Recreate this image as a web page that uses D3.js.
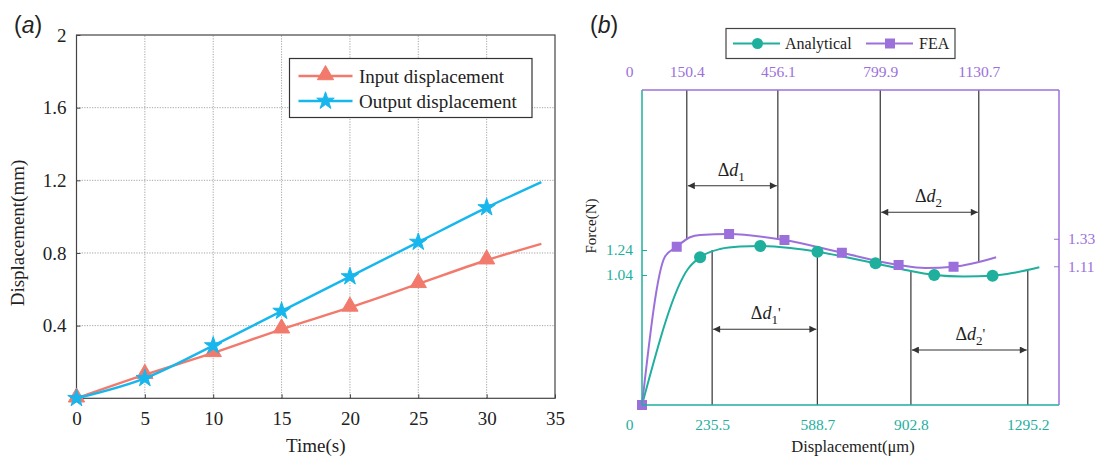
<!DOCTYPE html>
<html><head><meta charset="utf-8">
<script src="https://cdn.jsdelivr.net/npm/d3@7"></script>
<style>
body{margin:0;background:#fff;}
svg{display:block;font-family:"Liberation Serif","Times New Roman",serif;}
</style></head><body>
<svg id="chart" width="1095" height="457"></svg>
<script>
// ---------- Panel (a) data ----------
const timeValues = [0, 5, 10, 15, 20, 25, 30, 34];
const inputDisplacement = [0, 0.13, 0.25, 0.38, 0.50, 0.63, 0.76, 0.85];
const outputDisplacement = [0, 0.11, 0.29, 0.48, 0.67, 0.86, 1.05, 1.19];
const markerCount = 7; // markers on t = 0..30
const timeTicks = [0, 5, 10, 15, 20, 25, 30, 35];
const dispTicks = [0.4, 0.8, 1.2, 1.6, 2];
const seriesNamesA = ["Input displacement", "Output displacement"];

// ---------- Panel (b) data ----------
const analyticalX = [0, 156, 195, 262, 329, 397, 498, 589, 682, 783, 884, 981, 1079, 1177, 1254, 1334];
const analyticalF = [0, 1.094, 1.182, 1.248, 1.268, 1.272, 1.256, 1.226, 1.184, 1.134, 1.08, 1.04, 1.028, 1.034, 1.06, 1.102];
const analyticalMarkX = [195, 397, 589, 784, 981, 1177];
const analyticalMarkF = [1.182, 1.272, 1.226, 1.134, 1.04, 1.034];
const feaX = [0, 77, 116.6, 161, 195, 292.4, 478.3, 671, 861.5, 951, 1046, 1189];
const feaF = [0, 1.186, 1.266, 1.342, 1.36, 1.368, 1.32, 1.218, 1.12, 1.096, 1.106, 1.182];
const feaMarkX = [0, 116.6, 292.4, 478.3, 671, 861.5, 1046];
const feaMarkF = [0, 1.266, 1.368, 1.32, 1.218, 1.12, 1.106];
const bottomTicks = [0, 235.5, 588.7, 902.8, 1295.2];
const topTicks = [0, 150.4, 456.1, 799.9, 1130.7];
const leftTicks = [1.24, 1.04];
const rightTicks = [1.33, 1.11];
const seriesNamesB = ["Analytical", "FEA"];
// guide lines: FEA from the top axis down to the curve, analytical from the bottom axis up to the curve
const feaGuideX = [150.4, 456.1, 799.9, 1130.7];
const feaGuideF = [1.328, 1.328, 1.152, 1.142];
const anaGuideX = [235.5, 588.7, 902.8, 1295.2];
const anaGuideF = [1.24, 1.226, 1.072, 1.08];
// span arrows
const spanFrom = [150.4, 799.9, 235.5, 902.8];
const spanTo = [456.1, 1130.7, 588.7, 1295.2];
const spanLevel = [1.754, 1.542, 0.606, 0.44];
const spanSub = ["1", "2", "1", "2"];
const spanPrime = [false, false, true, true];

const svg = d3.select("#chart");
const SALMON = "#F27A6C", CYAN = "#17B6EC", TEAL = "#1EAF9D", PURPLE = "#9C70DB", DARK = "#333";
const SERIF = "'Liberation Serif','Times New Roman',serif";
const SANS = "'Liberation Sans',Arial,sans-serif";

// =================== Panel (a) ===================
const xA = d3.scaleLinear().domain([0, 35]).range([76.5, 555]);
const yA = d3.scaleLinear().domain([0, 2]).range([398.3, 35]);
const gA = svg.append("g");

// grid
gA.append("g").selectAll("line").data(timeTicks.slice(1, -1)).join("line")
  .attr("x1", d => xA(d)).attr("x2", d => xA(d)).attr("y1", yA(0)).attr("y2", yA(2))
  .attr("stroke", "#9a9a9a").attr("stroke-width", 0.9).attr("stroke-dasharray", "1.2,1.4");
gA.append("g").selectAll("line").data(dispTicks.slice(0, -1)).join("line")
  .attr("y1", d => yA(d)).attr("y2", d => yA(d)).attr("x1", xA(0)).attr("x2", xA(35))
  .attr("stroke", "#9a9a9a").attr("stroke-width", 0.9).attr("stroke-dasharray", "1.2,1.4");

// axes
const axA_x = gA.append("g").attr("transform", `translate(0,${yA(0)})`)
  .call(d3.axisBottom(xA).tickValues(timeTicks).tickSizeInner(-4).tickSizeOuter(0).tickPadding(13));
const axA_y = gA.append("g").attr("transform", `translate(${xA(0)},0)`)
  .call(d3.axisLeft(yA).tickValues(dispTicks).tickFormat(d3.format("~g")).tickSizeInner(-4).tickSizeOuter(0).tickPadding(10));
[axA_x, axA_y].forEach(a => {
  a.select(".domain").remove();
  a.selectAll("line").attr("stroke", "#444");
  a.selectAll("text").attr("font-size", 19).attr("fill", "#222").style("font-family", SERIF);
});
// border
gA.append("rect").attr("x", xA(0)).attr("y", yA(2)).attr("width", xA(35) - xA(0)).attr("height", yA(0) - yA(2))
  .attr("fill", "none").attr("stroke", "#444").attr("stroke-width", 1.2);

const lineA = d3.line().x((d, i) => xA(timeValues[i])).y(d => yA(d)).curve(d3.curveMonotoneX);
gA.append("path").attr("d", lineA(inputDisplacement)).attr("fill", "none").attr("stroke", SALMON).attr("stroke-width", 2.4);
gA.append("path").attr("d", lineA(outputDisplacement)).attr("fill", "none").attr("stroke", CYAN).attr("stroke-width", 2.4);

const tri = d3.symbol().type(d3.symbolTriangle).size(115);
const star = d3.symbol().type(d3.symbolStar).size(95);
gA.append("g").selectAll("path").data(inputDisplacement.slice(0, markerCount)).join("path")
  .attr("d", tri).attr("transform", (d, i) => `translate(${xA(timeValues[i])},${yA(d) - 1})`)
  .attr("fill", SALMON).attr("stroke", SALMON);
gA.append("g").selectAll("path").data(outputDisplacement.slice(0, markerCount)).join("path")
  .attr("d", star).attr("transform", (d, i) => `translate(${xA(timeValues[i])},${yA(d)})`)
  .attr("fill", CYAN).attr("stroke", CYAN).attr("stroke-width", 1);

// axis titles
gA.append("text").attr("x", (xA(0) + xA(35)) / 2).attr("y", 452).attr("text-anchor", "middle")
  .attr("font-size", 19).attr("fill", "#222").text("Time(s)");
gA.append("text").attr("transform", `translate(24,233) rotate(-90)`).attr("text-anchor", "middle")
  .attr("font-size", 19).attr("fill", "#222").text("Displacement(mm)");

// legend (a)
const legA = gA.append("g");
legA.append("rect").attr("x", 289.5).attr("y", 58.5).attr("width", 242.5).attr("height", 59)
  .attr("fill", "#fff").attr("stroke", "#333").attr("stroke-width", 1.2);
seriesNamesA.forEach((name, i) => {
  const cy = 76 + i * 25, col = i === 0 ? SALMON : CYAN;
  legA.append("line").attr("x1", 298.5).attr("x2", 352.5).attr("y1", cy).attr("y2", cy)
    .attr("stroke", col).attr("stroke-width", 2.4);
  legA.append("path").attr("d", i === 0 ? tri : star).attr("transform", `translate(325.5,${cy - (i === 0 ? 1 : 0)})`)
    .attr("fill", col).attr("stroke", col);
  legA.append("text").attr("x", 359).attr("y", cy + 6.5).attr("font-size", 19).attr("fill", "#222").text(name);
});

// panel label (a)
const labA = svg.append("text").attr("x", 14).attr("y", 33).attr("font-size", 23).attr("fill", "#222")
  .style("font-family", SANS);
labA.append("tspan").text("(");
labA.append("tspan").attr("font-style", "italic").text("a");
labA.append("tspan").text(")");

// =================== Panel (b) ===================
const xB = d3.scaleLinear().domain([0, 1400]).range([642, 1059]);
const yB = d3.scaleLinear().domain([0, 2.52]).range([405, 90]);
const gB = svg.append("g");

// arrow marker
const defs = svg.append("defs");
defs.append("marker").attr("id", "arr").attr("viewBox", "0 0 10 10").attr("refX", 10).attr("refY", 5)
  .attr("markerWidth", 9).attr("markerHeight", 7).attr("markerUnits", "userSpaceOnUse")
  .attr("orient", "auto-start-reverse")
  .append("path").attr("d", "M0,0 L10,5 L0,10 Z").attr("fill", DARK);

// guide lines
gB.append("g").selectAll("line").data(feaGuideX).join("line")
  .attr("x1", d => xB(d)).attr("x2", d => xB(d)).attr("y1", yB(2.52)).attr("y2", (d, i) => yB(feaGuideF[i]))
  .attr("stroke", DARK).attr("stroke-width", 1.2);
gB.append("g").selectAll("line").data(anaGuideX).join("line")
  .attr("x1", d => xB(d)).attr("x2", d => xB(d)).attr("y1", yB(0)).attr("y2", (d, i) => yB(anaGuideF[i]))
  .attr("stroke", DARK).attr("stroke-width", 1.2);

// span arrows + labels
spanFrom.forEach((f, i) => {
  const y = yB(spanLevel[i]);
  gB.append("line").attr("x1", xB(f) + 1).attr("x2", xB(spanTo[i]) - 1).attr("y1", y).attr("y2", y)
    .attr("stroke", DARK).attr("stroke-width", 1.2)
    .attr("marker-start", "url(#arr)").attr("marker-end", "url(#arr)");
  const t = gB.append("text").attr("x", (xB(f) + xB(spanTo[i])) / 2 + (spanPrime[i] ? 1 : -1)).attr("y", y - 10)
    .attr("text-anchor", "middle").attr("font-size", 18).attr("fill", "#222");
  t.append("tspan").text("Δ");
  t.append("tspan").attr("font-style", "italic").text("d");
  t.append("tspan").attr("font-size", 13).attr("dy", 5).text(spanSub[i]);
  if (spanPrime[i]) t.append("tspan").attr("font-size", 15).attr("dy", -6).text("'");
});

// curves
const lineB = d3.line().curve(d3.curveMonotoneX);
gB.append("path").attr("d", lineB(analyticalX.map((x, i) => [xB(x), yB(analyticalF[i])])))
  .attr("fill", "none").attr("stroke", TEAL).attr("stroke-width", 2);
gB.append("path").attr("d", lineB(feaX.map((x, i) => [xB(x), yB(feaF[i])])))
  .attr("fill", "none").attr("stroke", PURPLE).attr("stroke-width", 2);
gB.append("g").selectAll("circle").data(analyticalMarkX).join("circle")
  .attr("cx", d => xB(d)).attr("cy", (d, i) => yB(analyticalMarkF[i])).attr("r", 6).attr("fill", TEAL);
gB.append("g").selectAll("rect").data(feaMarkX).join("rect")
  .attr("x", d => xB(d) - 5).attr("y", (d, i) => yB(feaMarkF[i]) - 5).attr("width", 10).attr("height", 10).attr("fill", PURPLE);

// frame (colored sides)
gB.append("line").attr("x1", xB(0)).attr("x2", xB(0)).attr("y1", yB(0)).attr("y2", yB(2.52)).attr("stroke", TEAL).attr("stroke-width", 1.5);
gB.append("line").attr("x1", xB(0)).attr("x2", xB(1400)).attr("y1", yB(0)).attr("y2", yB(0)).attr("stroke", TEAL).attr("stroke-width", 1.5);
gB.append("line").attr("x1", xB(0)).attr("x2", xB(1400)).attr("y1", yB(2.52)).attr("y2", yB(2.52)).attr("stroke", PURPLE).attr("stroke-width", 1.5);
gB.append("line").attr("x1", xB(1400)).attr("x2", xB(1400)).attr("y1", yB(0)).attr("y2", yB(2.52)).attr("stroke", PURPLE).attr("stroke-width", 1.5);

// axes
function styleAxis(a, col, shiftZero) {
  a.select(".domain").remove();
  a.selectAll("line").attr("stroke", col);
  a.selectAll("text").attr("font-size", 15.5).attr("fill", col).style("font-family", SERIF);
  if (shiftZero) a.selectAll(".tick").filter(d => d === 0).select("text").attr("x", -13);
}
styleAxis(gB.append("g").attr("transform", `translate(0,${yB(0)})`)
  .call(d3.axisBottom(xB).tickValues(bottomTicks).tickFormat(d => d === 0 ? "0" : d3.format(".1f")(d)).tickSize(0).tickPadding(14)), TEAL, true);
styleAxis(gB.append("g").attr("transform", `translate(0,${yB(2.52)})`)
  .call(d3.axisTop(xB).tickValues(topTicks).tickFormat(d => d === 0 ? "0" : d3.format(".1f")(d)).tickSize(0).tickPadding(13)), PURPLE, true);
styleAxis(gB.append("g").attr("transform", `translate(${xB(0)},0)`)
  .call(d3.axisLeft(yB).tickValues(leftTicks).tickFormat(d3.format(".2f")).tickSizeInner(-5).tickSizeOuter(0).tickPadding(9)), TEAL, false);
styleAxis(gB.append("g").attr("transform", `translate(${xB(1400)},0)`)
  .call(d3.axisRight(yB).tickValues(rightTicks).tickFormat(d3.format(".2f")).tickSizeInner(-5).tickSizeOuter(0).tickPadding(9)), PURPLE, false);

// titles
gB.append("text").attr("x", 853).attr("y", 452).attr("text-anchor", "middle").attr("font-size", 16.5)
  .attr("fill", "#222").text("Displacement(μm)");
gB.append("text").attr("transform", "translate(596,226) rotate(-90)").attr("text-anchor", "middle")
  .attr("font-size", 15).attr("fill", "#222").text("Force(N)");

// legend (b)
const legB = gB.append("g");
legB.append("rect").attr("x", 726).attr("y", 28.5).attr("width", 229).attr("height", 30)
  .attr("fill", "#fff").attr("stroke", "#444").attr("stroke-width", 1.2);
legB.append("line").attr("x1", 733).attr("x2", 780).attr("y1", 43.5).attr("y2", 43.5).attr("stroke", TEAL).attr("stroke-width", 2);
legB.append("circle").attr("cx", 757.5).attr("cy", 43.5).attr("r", 5.5).attr("fill", TEAL);
legB.append("text").attr("x", 785).attr("y", 49).attr("font-size", 16).attr("fill", "#222").text(seriesNamesB[0]);
legB.append("line").attr("x1", 866).attr("x2", 913).attr("y1", 43.5).attr("y2", 43.5).attr("stroke", PURPLE).attr("stroke-width", 2);
legB.append("rect").attr("x", 885).attr("y", 38.5).attr("width", 10).attr("height", 10).attr("fill", PURPLE);
legB.append("text").attr("x", 919).attr("y", 49).attr("font-size", 16).attr("fill", "#222").text(seriesNamesB[1]);

// panel label (b)
const labB = svg.append("text").attr("x", 590).attr("y", 33).attr("font-size", 23).attr("fill", "#222")
  .style("font-family", SANS);
labB.append("tspan").text("(");
labB.append("tspan").attr("font-style", "italic").text("b");
labB.append("tspan").text(")");
</script>
</body></html>
